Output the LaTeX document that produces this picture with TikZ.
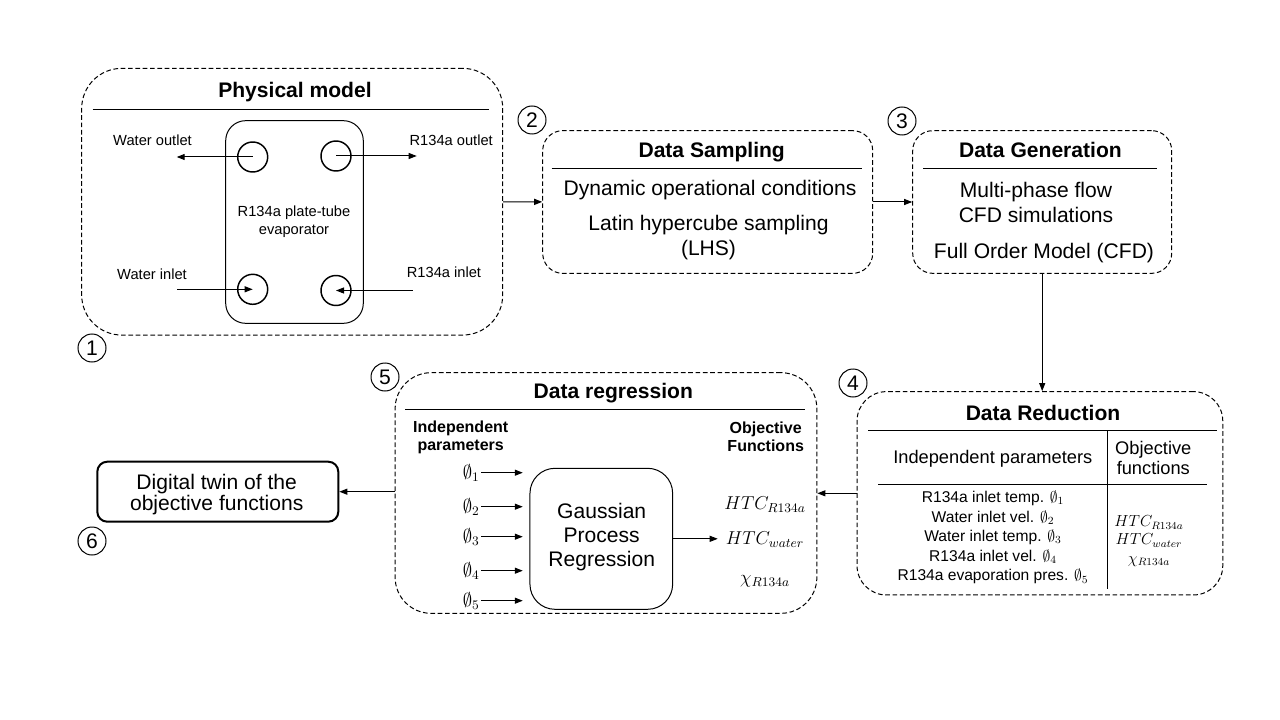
\RequirePackage{fix-cm}
\documentclass[tikz,border=0pt]{standalone}
\usepackage[no-math]{fontspec}
\setmainfont{Liberation Sans}
\usetikzlibrary{arrows.meta}

\tikzset{
  dashbox/.style={draw, dash pattern=on 3.5pt off 2pt, rounded corners=#1, inner sep=0pt},
  dashbox/.default=15pt,
  solidbox/.style={draw, rounded corners=#1, inner sep=0pt},
  solidbox/.default=15pt,
  port/.style={circle, draw, line width=1.1pt, minimum size=22.5pt, inner sep=0pt},
  numcirc/.style={circle, draw, minimum size=21pt, inner sep=0pt, font=\fontsize{15.8}{18}\selectfont},
  arr/.style={-{Triangle[length=6pt,width=4.5pt]}},
  ttl/.style={inner sep=0.75pt, font=\bfseries\fontsize{15.8}{19}\selectfont},
  bodytxt/.style={inner sep=0.75pt, align=center, font=\fontsize{15.8}{18.75}\selectfont},
  smalltxt/.style={inner sep=0.75pt, align=center, font=\fontsize{11}{13.5}\selectfont},
  subhead/.style={inner sep=0.75pt, align=center, font=\bfseries\fontsize{12}{13.3}\selectfont},
  tabhead/.style={inner sep=0.75pt, align=center, font=\fontsize{13.7}{15}\selectfont},
  tabtxt/.style={inner sep=0.75pt, align=center, font=\fontsize{11.7}{14.7}\selectfont},
  mathtxt/.style={inner sep=0.75pt, font=\fontsize{14}{17}\selectfont}
}

\begin{document}
\begin{tikzpicture}[x=0.75pt,y=0.75pt,yscale=-1,xscale=1, line width=0.75pt]
        \useasboundingbox (0,0) rectangle (1280,720);
        %Shape: Rounded Rect [id:phys]
        \node (phys) at (292.2,201.7) [dashbox=30pt, minimum width=315.75pt, minimum height=200pt] {};
        \draw (92.7,109.3) -- (489.3,109.3);
        %Shape: Rounded Rect [id:evap]
        \node (evap) at (294.5,222) [solidbox, minimum width=103.2pt, minimum height=152pt] {};
        %Shape: Circle ports
        \node (ptl) at (252.7,157) [port] {};
        \node (ptr) at (336,156) [port] {};
        \node (pbl) at (252.7,289.3) [port] {};
        \node (pbr) at (336,290.5) [port] {};
        \coordinate (wout) at (176.7,157);
        \coordinate (rout) at (416.7,156);
        \coordinate (win) at (177.3,289.3);
        \coordinate (rin) at (412.7,290.5);
        %Straight Lines
        \draw [arr] (ptl.center) -- (wout);
        \draw [arr] (ptr.center) -- (rout);
        \draw [arr] (win) -- (pbl.center);
        \draw [arr] (rin) -- (pbr.center);

        %Shape: Rounded Rect [id:samp]
        \node (samp) at (707.7,202) [dashbox, minimum width=247.5pt, minimum height=107pt] {};
        \draw (551.7,168.3) -- (861.7,168.3);
        %Shape: Rounded Rect [id:gen]
        \node (gen) at (1042.2,202) [dashbox, minimum width=194.25pt, minimum height=107pt] {};
        \draw (923,168.3) -- (1156.7,168.3);
        %Shape: Rounded Rect [id:red]
        \node (red) at (1039.9,493.3) [dashbox=22pt, minimum width=274.3pt, minimum height=152.5pt] {};
        \draw (868,430) -- (1216.7,430);
        \draw (1107.5,430) -- (1107.5,589.3);
        \draw (878,484) -- (1206.7,484);
        %Shape: Rounded Rect [id:regr]
        \node (regr) at (606,493) [dashbox=27pt, minimum width=316.3pt, minimum height=180.5pt] {};
        \draw (405,409.3) -- (805,409.3);
        %Shape: Rounded Rect [id:gp]
        \node (gp) at (601.3,538.8) [solidbox=18.75pt, minimum width=107pt, minimum height=105.75pt] {};
        %Shape: Rounded Rect [id:twin]
        \node (twin) at (217.8,491.7) [solidbox=7.5pt, line width=1.5pt, minimum width=180.75pt, minimum height=45pt] {};

        %Straight Lines between stages
        \draw [arr] (phys) -- (samp);
        \draw [arr] (samp) -- (gen);
        \draw [arr] (gen.south) -- (gen.south |- red.north);
        \draw [arr] (red.west) -- (red.west -| regr.east);
        \draw [arr] (regr.west |- twin) -- (twin);

        %Shape: Circle numbers
        \foreach \n/\x/\y in {1/92/348, 2/532/120, 3/902/121, 4/853/383, 5/385/377, 6/92/541}
          \node (num\n) at (\x,\y) [numcirc] {\n};

        % Text Node
        \node (tphys) at (295,91.7) [ttl] {Physical model};
        % Text Node
        \node (twout) at (152.5,140.7) [smalltxt] {Water outlet};
        % Text Node
        \node (trout) at (451.2,140.7) [smalltxt] {R134a outlet};
        % Text Node
        \node (twinl) at (152,274) [smalltxt] {Water inlet};
        % Text Node
        \node (trin) at (444,272.3) [smalltxt] {R134a inlet};
        % Text Node
        \node (tevap) at (294,221.7) [smalltxt] {R134a plate-tube\\evaporator};

        % Text Node
        \node (tsamp) at (711.7,151.7) [ttl] {Data Sampling};
        % Text Node
        \node (tdyn) at (710,190) [bodytxt] {Dynamic operational conditions};
        % Text Node
        \node (tlhs) at (708.5,237.5) [bodytxt] {Latin hypercube sampling\\(LHS)};

        % Text Node
        \node (tgen) at (1040.4,150) [ttl] {Data Generation};
        % Text Node
        \node (tcfd) at (1036,202) [bodytxt] {Multi-phase flow\\CFD simulations};
        % Text Node
        \node (tfom) at (1044,253.3) [bodytxt] {Full Order Model (CFD)};

        % Text Node
        \node (tred) at (1043,413) [ttl] {Data Reduction};
        % Text Node
        \node (tindep) at (992.8,458.3) [tabhead] {Independent parameters};
        % Text Node
        \node (tobj) at (1153.3,458.3) [tabhead] {Objective\\functions};
        % Text Node
        \node (trows) at (993,537.4) [tabtxt] {R134a inlet temp. $\emptyset_1$\\Water inlet vel. $\emptyset_2$\\Water inlet temp. $\emptyset_3$\\R134a inlet vel. $\emptyset_4$\\R134a evaporation pres. $\emptyset_5$};
        % Text Node
        \node (tfun) at (1149,541) [tabtxt, font=\fontsize{12}{13.7}\selectfont] {$HTC_{R134a}$\\$HTC_{water}$\\$\chi_{R134a}$};

        % Text Node
        \node (tregr) at (613.3,393.3) [ttl] {Data regression};
        % Text Node
        \node (tip) at (460.7,437) [subhead] {Independent\\parameters};
        % Text Node
        \node (tof) at (765.7,437) [subhead] {Objective\\Functions};
        % Text Node
        \node (tgp) at (601.7,537.2) [bodytxt, font=\fontsize{15.8}{18}\selectfont] {Gaussian\\Process\\Regression};
        % Text Node
        \node (thtcr) at (765,505) [mathtxt] {$HTC_{R134a}$};
        % Text Node
        \node (thtcw) at (765,540) [mathtxt] {$HTC_{water}$};
        % Text Node
        \node (tchi) at (765,581.7) [mathtxt] {$\chi_{R134a}$};
        \draw [arr] (gp.east) -- ([xshift=-5pt]gp.east -| thtcw.west);
        \foreach \i/\y in {1/472.7, 2/506.7, 3/536.7, 4/570.7, 5/600.7} {
          \node (phi\i) at (481,\y) [mathtxt, anchor=east] {$\emptyset_{\i}$};
          \draw [arr, shorten >=5pt] (phi\i.east) -- (phi\i.east -| gp.west);
        }

        % Text Node
        \node (ttwin) at (216.7,494.7) [bodytxt, font=\fontsize{15.8}{15.5}\selectfont] {Digital twin of the\\objective functions};
\end{tikzpicture}
\end{document}
